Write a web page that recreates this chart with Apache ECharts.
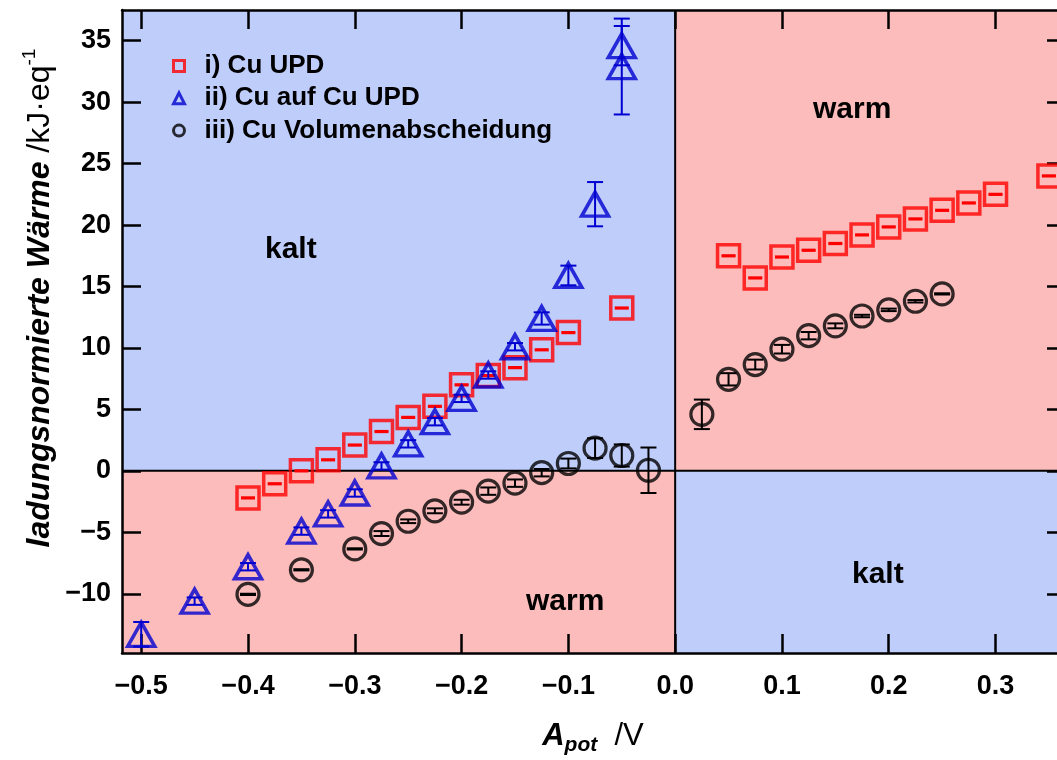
<!DOCTYPE html>
<html>
<head>
<meta charset="utf-8">
<script src="https://cdn.jsdelivr.net/npm/echarts@6.0.0/dist/echarts.min.js"></script>
<style>
html,body{margin:0;padding:0;background:#fff;}
#c{width:1057px;height:760px;}
</style>
</head>
<body>
<div id="c"></div>
<script>
// ---------- data ----------
const seriesNames = ['i) Cu UPD', 'ii) Cu auf Cu UPD', 'iii) Cu Volumenabscheidung'];

// i) Cu UPD
const updX   = [-0.4, -0.375, -0.35, -0.325, -0.3, -0.275, -0.25, -0.225, -0.2, -0.175, -0.15, -0.125, -0.1, -0.05,
                0.05, 0.075, 0.1, 0.125, 0.15, 0.175, 0.2, 0.225, 0.25, 0.275, 0.3, 0.35];
const updY   = [-2.2, -1.05, 0.0, 0.9, 2.1, 3.2, 4.35, 5.25, 7.0, 7.75, 8.4, 9.85, 11.25, 13.25,
                17.5, 15.7, 17.4, 17.95, 18.5, 19.2, 19.85, 20.5, 21.2, 21.8, 22.5, 24.0];
const updErr = [0.05, 0.05, 0.05, 0.05, 0.05, 0.05, 0.05, 0.05, 0.05, 0.05, 0.05, 0.05, 0.05, 0.05,
                0.05, 0.05, 0.05, 0.05, 0.05, 0.05, 0.05, 0.05, 0.05, 0.05, 0.05, 0.05];

// ii) Cu auf Cu UPD
const cuX   = [-0.5, -0.45, -0.4, -0.35, -0.325, -0.3, -0.275, -0.25, -0.225, -0.2, -0.175, -0.15, -0.125, -0.1, -0.075, -0.05, -0.05];
const cuY   = [-13.3, -10.6, -7.8, -4.9, -3.5, -1.8, 0.4, 2.2, 4.0, 5.9, 7.8, 10.1, 12.4, 15.9, 21.7, 34.6, 32.9];
const cuErr = [1.0, 0.3, 0.3, 0.3, 0.3, 0.3, 0.3, 0.3, 0.3, 0.3, 0.3, 0.3, 0.5, 0.8, 1.8, 1.6, 3.9];

// iii) Cu Volumenabscheidung
const volX   = [-0.4, -0.35, -0.3, -0.275, -0.25, -0.225, -0.2, -0.175, -0.15, -0.125, -0.1, -0.075, -0.05, -0.025,
                0.025, 0.05, 0.075, 0.1, 0.125, 0.15, 0.175, 0.2, 0.225, 0.25];
const volY   = [-10.05, -8.05, -6.35, -5.1, -4.1, -3.25, -2.55, -1.65, -1.0, -0.15, 0.6, 1.85, 1.25, 0.05,
                4.6, 7.45, 8.65, 9.9, 11.0, 11.8, 12.6, 13.1, 13.8, 14.4];
const volErr = [0.05, 0.05, 0.05, 0.2, 0.15, 0.2, 0.2, 0.3, 0.3, 0.3, 0.4, 0.8, 0.9, 1.85,
                1.2, 0.5, 0.4, 0.35, 0.3, 0.2, 0.1, 0.1, 0.1, 0.05];

// axis ranges and tick labels
const xMin = -0.518, xMax = 0.366;
const yMin = -14.82, yMax = 37.5;
const xTicks = [-0.5, -0.4, -0.3, -0.2, -0.1, 0.0, 0.1, 0.2, 0.3];
const yTicks = [-10, -5, 0, 5, 10, 15, 20, 25, 30, 35];
const crossing = [[0, 0]];

// ---------- styling ----------
const FONT = '"Liberation Sans", Arial, Helvetica, sans-serif';
const RED = '#ff0000', BLUE = '#0000d0', BLACK = '#000000';
const BG_BLUE = '#bfcdfb', BG_PINK = '#fcbcbc';

const zip = (xs, ys) => xs.map((x, i) => [x, ys[i]]);
const zip3 = (xs, ys, es) => xs.map((x, i) => [x, ys[i], es[i]]);
const xFmt = v => (v < -1e-9 ? '\u2212' : '') + Math.abs(v).toFixed(1);
const yFmt = v => (v < 0 ? '\u2212' : '') + Math.abs(Math.round(v)).toString();

function errBar(color, capW, lw) {
  return function (params, api) {
    const x = api.value(0), y = api.value(1), e = api.value(2);
    const top = api.coord([x, y + e]);
    const bot = api.coord([x, y - e]);
    const st = { stroke: color, lineWidth: lw, fill: null };
    return {
      type: 'group',
      children: [
        { type: 'line', shape: { x1: top[0], y1: top[1], x2: bot[0], y2: bot[1] }, style: st },
        { type: 'line', shape: { x1: top[0] - capW / 2, y1: top[1], x2: top[0] + capW / 2, y2: top[1] }, style: st },
        { type: 'line', shape: { x1: bot[0] - capW / 2, y1: bot[1], x2: bot[0] + capW / 2, y2: bot[1] }, style: st }
      ]
    };
  };
}

const axisLineStyle = { color: BLACK, width: 2.5 };
const tickStyle = { color: BLACK, width: 2.5 };

const chart = echarts.init(document.getElementById('c'), null, { renderer: 'canvas' });

chart.setOption({
  animation: false,
  backgroundColor: '#ffffff',
  grid: { left: 122, width: 944, top: 10, height: 643, containLabel: false, outerBoundsMode: 'none' },
  xAxis: [
    {
      type: 'value', min: xMin, max: xMax, position: 'bottom',
      axisLine: { show: true, onZero: false, lineStyle: axisLineStyle },
      axisTick: { show: true, inside: true, length: 19, lineStyle: tickStyle, customValues: xTicks },
      axisLabel: {
        show: true, customValues: xTicks, formatter: xFmt, margin: 20,
        color: BLACK, fontFamily: FONT, fontWeight: 'bold', fontSize: 27
      },
      splitLine: { show: false }
    },
    {
      type: 'value', min: xMin, max: xMax, position: 'top',
      axisLine: { show: true, onZero: false, lineStyle: axisLineStyle },
      axisTick: { show: true, inside: true, length: 19, lineStyle: tickStyle, customValues: xTicks },
      axisLabel: { show: false },
      splitLine: { show: false }
    }
  ],
  yAxis: [
    {
      type: 'value', min: yMin, max: yMax, position: 'left',
      axisLine: { show: true, onZero: false, lineStyle: axisLineStyle },
      axisTick: { show: true, inside: true, length: 19, lineStyle: tickStyle, customValues: yTicks },
      axisLabel: {
        show: true, customValues: yTicks, formatter: yFmt, margin: 11,
        color: BLACK, fontFamily: FONT, fontWeight: 'bold', fontSize: 27
      },
      splitLine: { show: false }
    },
    {
      type: 'value', min: yMin, max: yMax, position: 'right',
      axisLine: { show: true, onZero: false, lineStyle: axisLineStyle },
      axisTick: { show: true, inside: true, length: 19, lineStyle: tickStyle, customValues: yTicks },
      axisLabel: { show: false },
      splitLine: { show: false }
    }
  ],
  legend: {
    show: true, orient: 'vertical', left: 167, top: 45, itemWidth: 11, itemHeight: 11, itemGap: 0.3,
    textStyle: { color: BLACK, fontFamily: FONT, fontWeight: 'bold', fontSize: 26, lineHeight: 32, padding: [0, 0, 0, 15] },
    selectedMode: false,
    data: [
      { name: seriesNames[0], icon: 'rect', itemStyle: { color: 'rgba(0,0,0,0)', borderColor: RED, borderWidth: 3 } },
      { name: seriesNames[1], icon: 'triangle', itemStyle: { color: 'rgba(0,0,0,0)', borderColor: BLUE, borderWidth: 3 } },
      { name: seriesNames[2], icon: 'circle', itemStyle: { color: 'rgba(0,0,0,0)', borderColor: BLACK, borderWidth: 3 } }
    ]
  },
  graphic: [
    { type: 'text', left: 265, top: 235, z: 10, silent: true,
      style: { text: 'kalt', fill: BLACK, font: 'bold 30px ' + FONT } },
    { type: 'text', left: 813, top: 95, z: 10, silent: true,
      style: { text: 'warm', fill: BLACK, font: 'bold 30px ' + FONT } },
    { type: 'text', left: 852, top: 560, z: 10, silent: true,
      style: { text: 'kalt', fill: BLACK, font: 'bold 30px ' + FONT } },
    { type: 'text', left: 526, top: 587, z: 10, silent: true,
      style: { text: 'warm', fill: BLACK, font: 'bold 30px ' + FONT } },
    {
      type: 'text', x: 40, y: 298, rotation: Math.PI / 2, z: 10, silent: true,
      style: {
        text: '{it|ladungsnormierte Wärme}{rg| /kJ·eq}{sup|-1}',
        align: 'center', verticalAlign: 'middle', fill: BLACK,
        rich: {
          it: { fontFamily: FONT, fontStyle: 'italic', fontWeight: 'bold', fontSize: 32, lineHeight: 40, fill: BLACK },
          rg: { fontFamily: FONT, fontWeight: 'normal', fontSize: 32, lineHeight: 40, fill: BLACK },
          sup: { fontFamily: FONT, fontWeight: 'normal', fontSize: 19, lineHeight: 20, verticalAlign: 'top', fill: BLACK }
        }
      }
    },
    {
      type: 'text', x: 593, y: 736, z: 10, silent: true,
      style: {
        text: '{a|A}{sub|pot}{rg|  /V}',
        align: 'center', verticalAlign: 'middle', fill: BLACK,
        rich: {
          a: { fontFamily: FONT, fontStyle: 'italic', fontWeight: 'bold', fontSize: 31, lineHeight: 40, fill: BLACK },
          sub: { fontFamily: FONT, fontStyle: 'italic', fontWeight: 'bold', fontSize: 21, lineHeight: 22, verticalAlign: 'bottom', fill: BLACK },
          rg: { fontFamily: FONT, fontWeight: 'normal', fontSize: 31, lineHeight: 40, fill: BLACK }
        }
      }
    }
  ],
  series: [
    {
      name: 'quadrants', type: 'custom', z: -1, silent: true, xAxisIndex: 0, yAxisIndex: 0,
      data: crossing,
      renderItem: function (params, api) {
        const cs = params.coordSys;
        const o = api.coord([api.value(0), api.value(1)]);
        const x0 = cs.x, y0 = cs.y, x1 = cs.x + cs.width, y1 = cs.y + cs.height;
        const line = { stroke: BLACK, lineWidth: 2 };
        return {
          type: 'group',
          children: [
            { type: 'rect', shape: { x: x0, y: y0, width: o[0] - x0, height: o[1] - y0 }, style: { fill: BG_BLUE } },
            { type: 'rect', shape: { x: o[0], y: y0, width: x1 - o[0], height: o[1] - y0 }, style: { fill: BG_PINK } },
            { type: 'rect', shape: { x: x0, y: o[1], width: o[0] - x0, height: y1 - o[1] }, style: { fill: BG_PINK } },
            { type: 'rect', shape: { x: o[0], y: o[1], width: x1 - o[0], height: y1 - o[1] }, style: { fill: BG_BLUE } },
            { type: 'line', shape: { x1: x0, y1: o[1], x2: x1, y2: o[1] }, style: line },
            { type: 'line', shape: { x1: o[0], y1: y0, x2: o[0], y2: y1 }, style: line }
          ]
        };
      }
    },
    {
      name: seriesNames[0], type: 'scatter', symbol: 'rect', symbolSize: 22, z: 3,
      data: zip(updX, updY),
      itemStyle: { color: 'rgba(0,0,0,0)', borderColor: RED, borderWidth: 3.5 },
      emphasis: { disabled: true }
    },
    {
      name: 'errUPD', type: 'custom', z: 3, silent: true,
      data: zip3(updX, updY, updErr), renderItem: errBar(RED, 14, 2)
    },
    {
      name: seriesNames[1], type: 'scatter', symbol: 'triangle', symbolSize: [27, 24], z: 4,
      data: zip(cuX, cuY),
      itemStyle: { color: 'rgba(0,0,0,0)', borderColor: BLUE, borderWidth: 3.5 },
      emphasis: { disabled: true }
    },
    {
      name: 'errCu', type: 'custom', z: 4, silent: true,
      data: zip3(cuX, cuY, cuErr), renderItem: errBar(BLUE, 16, 2)
    },
    {
      name: seriesNames[2], type: 'scatter', symbol: 'circle', symbolSize: 22, z: 5,
      data: zip(volX, volY),
      itemStyle: { color: 'rgba(0,0,0,0)', borderColor: BLACK, borderWidth: 3.2 },
      emphasis: { disabled: true }
    },
    {
      name: 'errVol', type: 'custom', z: 5, silent: true,
      data: zip3(volX, volY, volErr), renderItem: errBar(BLACK, 16, 2)
    }
  ]
});
</script>
</body>
</html>
